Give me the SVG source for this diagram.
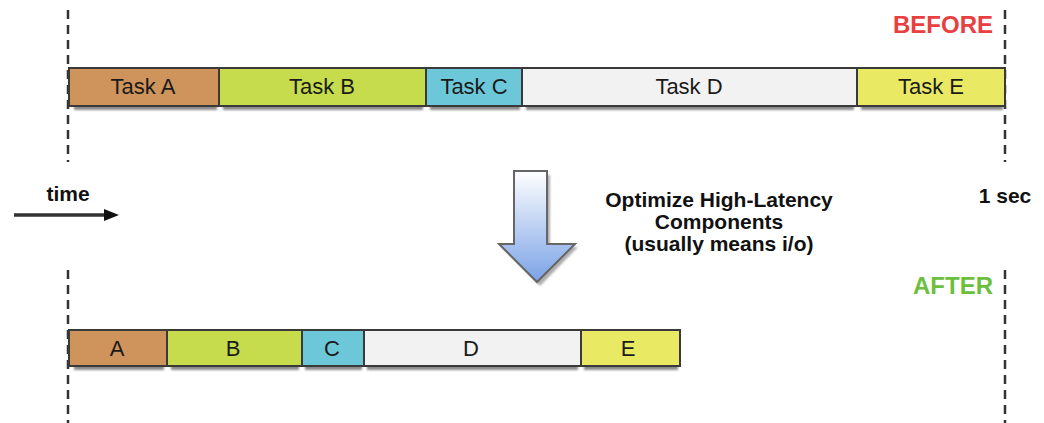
<svg xmlns="http://www.w3.org/2000/svg" width="1044" height="423" viewBox="0 0 1044 423">
  <defs>
    <linearGradient id="arrowFill" x1="0" y1="0" x2="0" y2="1">
      <stop offset="0" stop-color="#ffffff"/>
      <stop offset="1" stop-color="#7aa2e6"/>
    </linearGradient>
    <filter id="soft" x="-10%" y="-50%" width="120%" height="200%">
      <feGaussianBlur stdDeviation="1"/>
    </filter>
    <marker id="head" markerWidth="15" markerHeight="12" refX="1" refY="6" orient="auto" markerUnits="userSpaceOnUse" viewBox="0 0 15 12">
      <path d="M0,0 L15,6 L0,12 Z" fill="#111"/>
    </marker>
    <style>
      .guide { stroke: #333; stroke-width: 2.5; stroke-dasharray: 9 6; fill: none; }
      .seg { stroke: #3a3a3a; stroke-width: 2; }
      .shadow { fill: #8a8a8a; filter: url(#soft); }
      .lbl { font-family: "Liberation Sans", Arial, sans-serif; font-size: 22px; fill: #1a1a1a; text-anchor: middle; }
      .note { font-family: "Liberation Sans", Arial, sans-serif; font-size: 21px; font-weight: bold; fill: #111; text-anchor: middle; }
      .tag { font-family: "Liberation Sans", Arial, sans-serif; font-size: 24px; font-weight: bold; text-anchor: end; }
    </style>
  </defs>

  <!-- time guides -->
  <g id="guides">
    <line class="guide" x1="68" y1="10" x2="68" y2="162"/>
    <line class="guide" x1="68" y1="270" x2="68" y2="423"/>
    <line class="guide" x1="1005" y1="10" x2="1005" y2="162"/>
    <line class="guide" x1="1005" y1="270" x2="1005" y2="423"/>
  </g>

  <text class="tag" x="993" y="33" fill="#e84040">BEFORE</text>
  <text class="tag" x="993" y="294" fill="#6cbf3c">AFTER</text>

  <!-- before timeline -->
  <g id="before">
    <g id="taskA">
      <rect class="shadow" x="74" y="105" width="143" height="5"/>
      <rect class="seg" x="69" y="68" width="150" height="38" fill="#cf945b"/>
      <text class="lbl" x="143" y="94">Task A</text>
    </g>
    <g id="taskB">
      <rect class="shadow" x="223" y="105" width="200" height="5"/>
      <rect class="seg" x="219" y="68" width="207" height="38" fill="#c6dc4c"/>
      <text class="lbl" x="322" y="94">Task B</text>
    </g>
    <g id="taskC">
      <rect class="shadow" x="430" y="105" width="90" height="5"/>
      <rect class="seg" x="426" y="68" width="96" height="38" fill="#6cc8d8"/>
      <text class="lbl" x="474" y="94">Task C</text>
    </g>
    <g id="taskD">
      <rect class="shadow" x="526" y="105" width="328" height="5"/>
      <rect class="seg" x="522" y="68" width="335" height="38" fill="#f2f2f2"/>
      <text class="lbl" x="689" y="94">Task D</text>
    </g>
    <g id="taskE">
      <rect class="shadow" x="861" y="105" width="142" height="5"/>
      <rect class="seg" x="857" y="68" width="148" height="38" fill="#e9e964"/>
      <text class="lbl" x="931" y="94">Task E</text>
    </g>
  </g>

  <!-- time axis -->
  <g id="connectors">
    <line x1="14" y1="215" x2="105" y2="215" stroke="#333" stroke-width="3.5" marker-end="url(#head)"/>
  </g>
  <text class="note" x="68" y="201" font-size="19">time</text>
  <text class="note" x="1005" y="203" font-size="20">1 sec</text>

  <!-- optimisation arrow -->
  <g id="optimize">
    <path d="M517,175 L550,175 L550,247 L578,247 L540,286 L502,247 L517,247 Z" fill="#777" opacity="0.6" filter="url(#soft)"/>
    <path d="M514,171 L547,171 L547,244 L575,244 L537,282 L499,244 L514,244 Z" fill="url(#arrowFill)" stroke="#666" stroke-width="2" stroke-linejoin="miter"/>
    <text class="note" x="719" y="207">Optimize High-Latency</text>
    <text class="note" x="719" y="229">Components</text>
    <text class="note" x="719" y="251">(usually means i/o)</text>
  </g>

  <!-- after timeline -->
  <g id="after">
    <g id="segA">
      <rect class="shadow" x="74" y="365" width="90" height="5"/>
      <rect class="seg" x="69" y="330" width="98" height="36" fill="#cf945b"/>
      <text class="lbl" x="117" y="356">A</text>
    </g>
    <g id="segB">
      <rect class="shadow" x="171" y="365" width="128" height="5"/>
      <rect class="seg" x="167" y="330" width="135" height="36" fill="#c6dc4c"/>
      <text class="lbl" x="233" y="356">B</text>
    </g>
    <g id="segC">
      <rect class="shadow" x="305" y="365" width="57" height="5"/>
      <rect class="seg" x="302" y="330" width="62" height="36" fill="#6cc8d8"/>
      <text class="lbl" x="332" y="356">C</text>
    </g>
    <g id="segD">
      <rect class="shadow" x="367" y="365" width="211" height="5"/>
      <rect class="seg" x="364" y="330" width="217" height="36" fill="#f2f2f2"/>
      <text class="lbl" x="471" y="356">D</text>
    </g>
    <g id="segE">
      <rect class="shadow" x="584" y="365" width="94" height="5"/>
      <rect class="seg" x="581" y="330" width="99" height="36" fill="#e9e964"/>
      <text class="lbl" x="628" y="356">E</text>
    </g>
  </g>
</svg>
